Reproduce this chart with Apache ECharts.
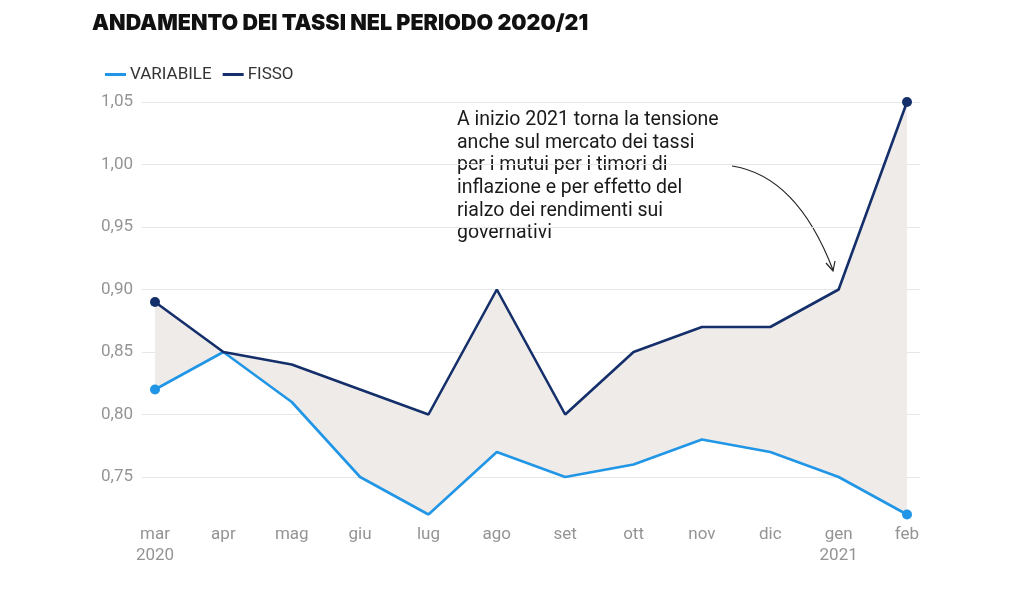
<!DOCTYPE html>
<html>
<head>
<meta charset="utf-8">
<script src="https://cdn.jsdelivr.net/npm/echarts@6/dist/echarts.min.js"></script>
<style>
  html, body { margin: 0; padding: 0; background: #fff; }
  #chart { width: 1024px; height: 589px; }
</style>
</head>
<body>
<div id="chart"></div>
<script>
// dati
const mesi = ["mar\n2020", "apr", "mag", "giu", "lug", "ago", "set", "ott", "nov", "dic", "gen\n2021", "feb"];
const variabile = [0.82, 0.85, 0.81, 0.75, 0.72, 0.77, 0.75, 0.76, 0.78, 0.77, 0.75, 0.72];
const fisso = [0.89, 0.85, 0.84, 0.82, 0.80, 0.90, 0.80, 0.85, 0.87, 0.87, 0.90, 1.05];
const yTicks = [0.75, 0.80, 0.85, 0.90, 0.95, 1.00, 1.05];

const nota = [
  "A inizio 2021 torna la tensione",
  "anche sul mercato dei tassi",
  "per i mutui per i timori di",
  "inflazione e per effetto del",
  "rialzo dei rendimenti sui",
  "governativi",
].join("\n");

const colors = {
  variabile: "#2196e6",
  fisso: "#152f6b",
  band: "#efebe8",
  grid: "#e6e6e6",
  label: "#949494",
};

const chart = echarts.init(document.getElementById("chart"));

// la banda tra i due tassi: base trasparente + differenza impilata
const base = variabile.map((v, i) => Math.min(v, fisso[i]));
const diff = variabile.map((v, i) => +(Math.abs(fisso[i] - v)).toFixed(4));

const last = mesi.length - 1;
const endDots = (v, p) => (p.dataIndex === 0 || p.dataIndex === last ? 10 : 0);

chart.setOption({
  animation: false,
  backgroundColor: "#fff",
  textStyle: { fontFamily: "Roboto" },

  title: {
    text: "ANDAMENTO DEI TASSI NEL PERIODO 2020/21",
    left: 87,
    top: 8,
    textStyle: {
      fontFamily: "Inter",
      fontWeight: 900,
      fontSize: 21.5,
      color: "#111",
    },
  },

  legend: {
    data: ["VARIABILE", "FISSO"],
    left: 100,
    top: 61,
    itemWidth: 21,
    itemHeight: 3,
    itemGap: 11,
    icon: "rect",
    textStyle: { color: "#333", fontSize: 17, padding: [0, 0, 0, -1] },
  },

  // grid 0: solo linee orizzontali e etichette; grid 1: i dati
  grid: [
    { left: 142, right: 104, top: 102, bottom: 49.5 },
    { left: 155, right: 117, top: 102, bottom: 74.5 },
  ],

  xAxis: [
    { gridIndex: 0, type: "value", min: 0, max: 1, show: false },
    {
      gridIndex: 1,
      type: "category",
      data: mesi,
      boundaryGap: false,
      axisLine: { show: false },
      axisTick: { show: false },
      axisLabel: { color: colors.label, fontSize: 17, margin: 10, lineHeight: 21 },
    },
  ],

  yAxis: [
    {
      gridIndex: 0,
      type: "value",
      min: 0.7,
      max: 1.05,
      interval: 0.05,
      axisLine: { show: false },
      axisTick: { show: false },
      axisLabel: {
        color: colors.label,
        fontSize: 17,
        margin: 9,
        formatter: (v) => (yTicks.some((t) => Math.abs(t - v) < 1e-6) ? v.toFixed(2).replace(".", ",") : ""),
      },
      splitLine: {
        lineStyle: {
          width: 1,
          color: ["rgba(0,0,0,0)", colors.grid, colors.grid, colors.grid, colors.grid, colors.grid, colors.grid, colors.grid],
        },
      },
    },
    {
      gridIndex: 1,
      type: "value",
      min: 0.72,
      max: 1.05,
      show: false,
      splitLine: { show: false },
    },
  ],

  series: [
    {
      name: "base",
      type: "line",
      xAxisIndex: 1,
      yAxisIndex: 1,
      stack: "band",
      data: base,
      symbol: "none",
      lineStyle: { opacity: 0 },
      silent: true,
    },
    {
      name: "banda",
      type: "line",
      xAxisIndex: 1,
      yAxisIndex: 1,
      stack: "band",
      data: diff,
      symbol: "none",
      lineStyle: { opacity: 0 },
      areaStyle: { color: colors.band, opacity: 1 },
      silent: true,
    },
    {
      name: "VARIABILE",
      type: "line",
      xAxisIndex: 1,
      yAxisIndex: 1,
      data: variabile,
      symbol: "circle",
      symbolSize: endDots,
      itemStyle: { color: colors.variabile },
      lineStyle: { color: colors.variabile, width: 2.6 },
      z: 3,
    },
    {
      name: "FISSO",
      type: "line",
      xAxisIndex: 1,
      yAxisIndex: 1,
      data: fisso,
      symbol: "circle",
      symbolSize: endDots,
      itemStyle: { color: colors.fisso },
      lineStyle: { color: colors.fisso, width: 2.6 },
      z: 4,
    },
  ],

  graphic: [
    {
      type: "text",
      left: 457,
      top: 109,
      style: {
        text: nota,
        font: "19.5px Roboto",
        fill: "#1a1a1a",
        lineHeight: 22.6,
      },
    },
    {
      type: "bezierCurve",
      shape: { x1: 732, y1: 166, x2: 833, y2: 270, cpx1: 797, cpy1: 176 },
      style: { stroke: "#222", lineWidth: 1.2, fill: "none" },
    },
    {
      type: "polyline",
      shape: { points: [[826, 263], [833, 271], [835, 261]] },
      style: { stroke: "#222", lineWidth: 1.2, fill: "none" },
    },
  ],
});
</script>
</body>
</html>
